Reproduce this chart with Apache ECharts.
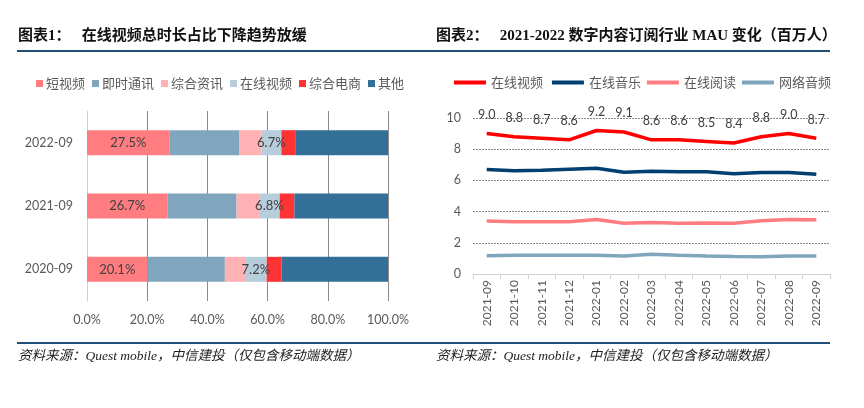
<!DOCTYPE html>
<html>
<head>
<meta charset="utf-8">
<script src="https://cdn.jsdelivr.net/npm/echarts@6/dist/echarts.min.js"></script>
<style>
  html, body { margin: 0; padding: 0; background: #fff; }
  #main { width: 864px; height: 408px; }
</style>
</head>
<body>
<div id="main"></div>
<script>
// 图表1 数据（%）
const periods = ['2020-09', '2021-09', '2022-09']
const shortVideo = [20.1, 26.7, 27.5]
const instantMsg = [25.7, 23.0, 23.0]
const newsInfo = [6.7, 7.5, 7.4]
const onlineVideo = [7.2, 6.8, 6.7]
const eCommerce = [4.9, 4.9, 4.8]
const others = [35.4, 31.1, 30.6]

// 图表2 数据（百万人）
const months = ['2021-09', '2021-10', '2021-11', '2021-12', '2022-01', '2022-02', '2022-03',
  '2022-04', '2022-05', '2022-06', '2022-07', '2022-08', '2022-09']
const mauVideo = [9.0, 8.8, 8.7, 8.6, 9.2, 9.1, 8.6, 8.6, 8.5, 8.4, 8.8, 9.0, 8.7]
const mauMusic = [6.7, 6.62, 6.65, 6.72, 6.78, 6.52, 6.58, 6.55, 6.55, 6.42, 6.5, 6.5, 6.4]
const mauReading = [3.4, 3.35, 3.35, 3.35, 3.5, 3.25, 3.3, 3.25, 3.27, 3.25, 3.42, 3.5, 3.47]
const mauAudio = [1.17, 1.2, 1.2, 1.2, 1.2, 1.15, 1.26, 1.2, 1.15, 1.12, 1.1, 1.15, 1.15]

const myChart = echarts.init(document.getElementById('main'))

const axisFont = 'Lato, "Noto Sans", sans-serif'
const cjkFont = '"Noto Sans CJK SC", sans-serif'
const titleFont = '"Liberation Serif", "Noto Sans CJK SC", serif'
const gray = '#595959'

const barLabel = {
  show: true,
  position: 'inside',
  color: '#404040',
  fontSize: 13,
  fontFamily: axisFont,
  formatter: p => p.value.toFixed(1) + '%'
}

function barSeries (name, data, color, label) {
  return {
    name: name,
    type: 'bar',
    stack: 'share',
    xAxisIndex: 0,
    yAxisIndex: 0,
    barWidth: 25,
    data: data,
    itemStyle: { color: color },
    label: label ? barLabel : { show: false }
  }
}

function lineSeries (name, data, color, label) {
  return {
    name: name,
    type: 'line',
    xAxisIndex: 1,
    yAxisIndex: 1,
    data: data,
    symbol: 'circle',
    symbolSize: 0.5,
    showSymbol: true,
    lineStyle: { color: color, width: 3.5 },
    itemStyle: { color: color },
    label: label
      ? { show: true, position: 'top', distance: 12, color: '#404040', fontSize: 12.5, fontFamily: axisFont, formatter: p => p.value.toFixed(1) }
      : { show: false }
  }
}

const option = {
  animation: false,
  graphic: [
    { type: 'text', left: 18, top: 29, style: { text: '图表1：   在线视频总时长占比下降趋势放缓', font: 'bold 15px ' + titleFont, fill: '#111' } },
    { type: 'text', left: 436, top: 29, style: { text: '图表2：   2021-2022 数字内容订阅行业 MAU 变化（百万人）', font: 'bold 15px ' + titleFont, fill: '#111' } },
    { type: 'rect', shape: { x: 17, y: 50, width: 813, height: 2 }, style: { fill: '#1f4e79' } },
    { type: 'rect', shape: { x: 17, y: 342, width: 813, height: 2 }, style: { fill: '#1f4e79' } },
    { type: 'text', left: 18, top: 350, style: { text: '资料来源：Quest mobile，中信建投（仅包含移动端数据）', font: 'italic 13.5px ' + titleFont, fill: '#222' } },
    { type: 'text', left: 436, top: 350, style: { text: '资料来源：Quest mobile，中信建投（仅包含移动端数据）', font: 'italic 13.5px ' + titleFont, fill: '#222' } }
  ],
  legend: [
    {
      left: 36,
      top: 77,
      padding: 0,
      itemWidth: 7,
      itemHeight: 7,
      itemGap: 7,
      icon: 'rect',
      textStyle: { color: gray, fontSize: 13, fontFamily: cjkFont, padding: [0, 0, 0, -2] },
      data: ['短视频', '即时通讯', '综合资讯', '在线视频', '综合电商', '其他']
    },
    {
      left: 454,
      top: 76,
      padding: 0,
      itemWidth: 32,
      itemHeight: 4,
      itemGap: 6,
      icon: 'rect',
      textStyle: { color: gray, fontSize: 13, fontFamily: cjkFont },
      data: ['在线视频 ', '在线音乐', '在线阅读', '网络音频']
    }
  ],
  grid: [
    { left: 87, width: 301, top: 111, height: 190 },
    { left: 473, width: 357, top: 118, height: 156 }
  ],
  xAxis: [
    {
      gridIndex: 0,
      type: 'value',
      min: 0,
      max: 100,
      interval: 20,
      axisLine: { show: false },
      axisTick: { show: false },
      axisLabel: { color: gray, fontSize: 12.5, fontFamily: axisFont, margin: 12, formatter: v => v.toFixed(1) + '%' },
      splitLine: { show: true, lineStyle: { color: '#8a8a8a', width: 1 } }
    },
    {
      gridIndex: 1,
      type: 'category',
      data: months,
      boundaryGap: true,
      axisLine: { lineStyle: { color: '#d0d0d0' } },
      axisTick: { show: true, length: 5, lineStyle: { color: '#d0d0d0' } },
      axisLabel: { rotate: 90, color: gray, fontSize: 12, fontFamily: axisFont, margin: 6 }
    }
  ],
  yAxis: [
    {
      gridIndex: 0,
      type: 'category',
      data: periods,
      axisLine: { show: true, lineStyle: { color: '#d0d0d0' } },
      axisTick: { show: false },
      axisLabel: { color: gray, fontSize: 12.5, fontFamily: axisFont, margin: 14 }
    },
    {
      gridIndex: 1,
      type: 'value',
      min: 0,
      max: 10,
      interval: 2,
      axisLine: { show: false },
      axisTick: { show: false },
      axisLabel: { color: gray, fontSize: 12.5, fontFamily: axisFont, margin: 12 },
      splitLine: { lineStyle: { color: '#8a8a8a', type: [2, 1] } }
    }
  ],
  series: [
    barSeries('短视频', shortVideo, '#ff7c80', true),
    barSeries('即时通讯', instantMsg, '#7fa6bd', false),
    barSeries('综合资讯', newsInfo, '#ffb1b3', false),
    barSeries('在线视频', onlineVideo, '#b7cddc', true),
    barSeries('综合电商', eCommerce, '#ff3333', false),
    barSeries('其他', others, '#336f96', false),
    lineSeries('在线视频 ', mauVideo, '#ff0000', true),
    lineSeries('在线音乐', mauMusic, '#003f72', false),
    lineSeries('在线阅读', mauReading, '#ff7c80', false),
    lineSeries('网络音频', mauAudio, '#7fa6bd', false)
  ]
}

myChart.setOption(option)

window.addEventListener('resize', () => {
  myChart.resize()
})
</script>
</body>
</html>
